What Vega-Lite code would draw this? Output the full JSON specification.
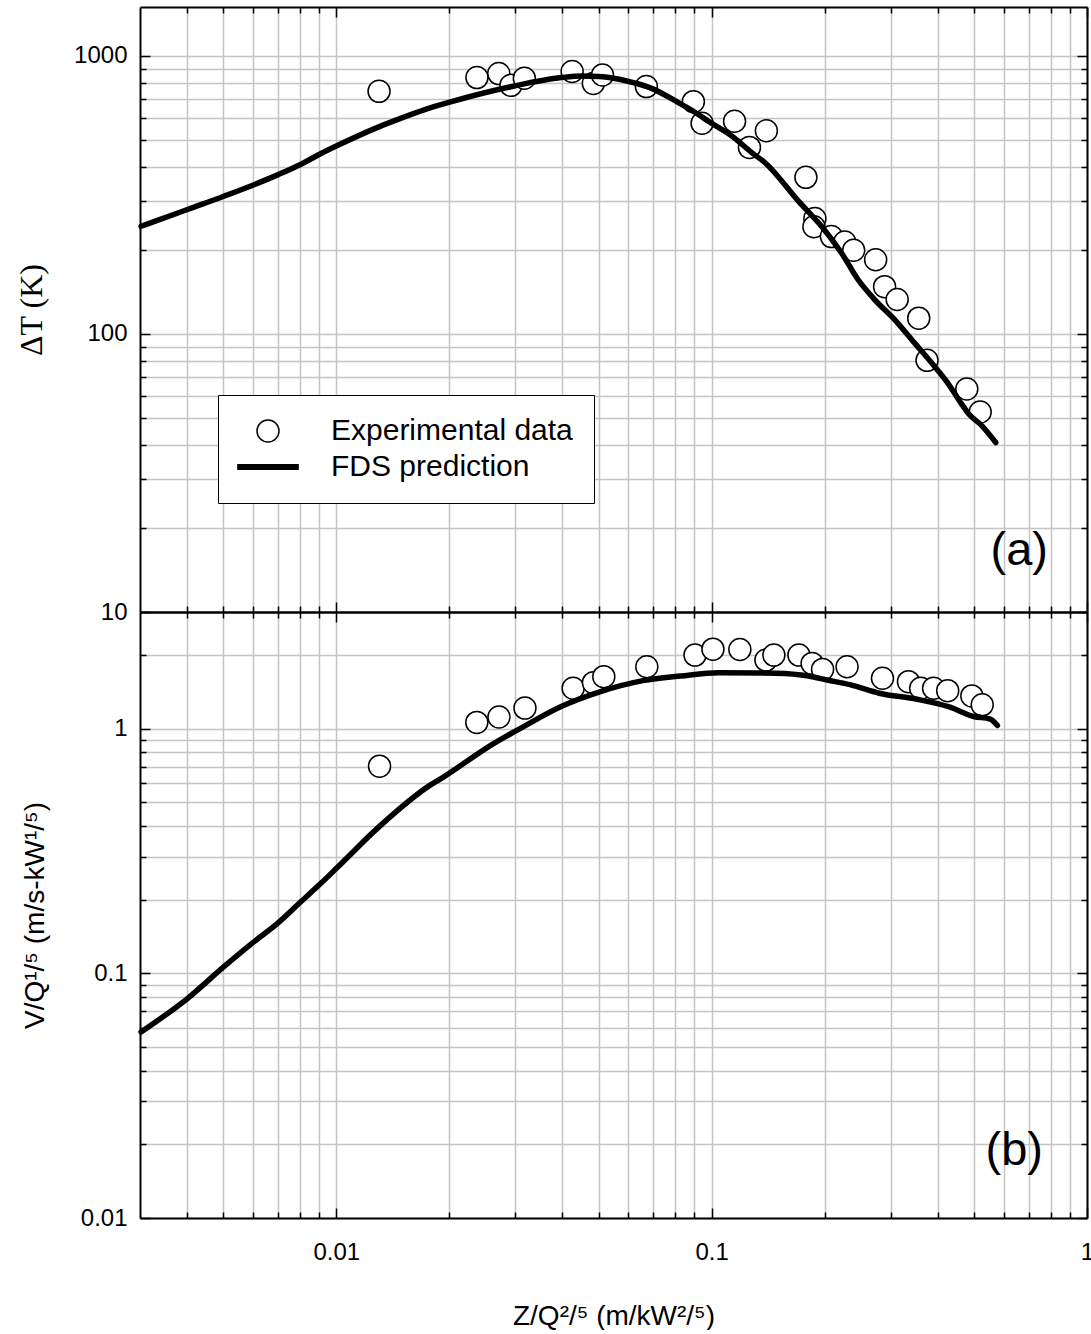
{
  "$schema": "https://vega.github.io/schema/vega-lite/v6.json",
  "background": "white",
  "padding": {"left": 15, "top": 6, "right": 0, "bottom": 0},
  "spacing": 0,
  "bounds": "flush",
  "datasets": {
    "tempExp": [
      {"z": 0.0130, "value": 746, "series": "Experimental data"},
      {"z": 0.0237, "value": 836, "series": "Experimental data"},
      {"z": 0.0271, "value": 864, "series": "Experimental data"},
      {"z": 0.0292, "value": 784, "series": "Experimental data"},
      {"z": 0.0317, "value": 831, "series": "Experimental data"},
      {"z": 0.0425, "value": 879, "series": "Experimental data"},
      {"z": 0.0484, "value": 796, "series": "Experimental data"},
      {"z": 0.0512, "value": 854, "series": "Experimental data"},
      {"z": 0.0670, "value": 776, "series": "Experimental data"},
      {"z": 0.0894, "value": 685, "series": "Experimental data"},
      {"z": 0.0943, "value": 573, "series": "Experimental data"},
      {"z": 0.1151, "value": 582, "series": "Experimental data"},
      {"z": 0.1261, "value": 469, "series": "Experimental data"},
      {"z": 0.1399, "value": 538, "series": "Experimental data"},
      {"z": 0.1783, "value": 366, "series": "Experimental data"},
      {"z": 0.1884, "value": 260, "series": "Experimental data"},
      {"z": 0.1873, "value": 243, "series": "Experimental data"},
      {"z": 0.2085, "value": 224, "series": "Experimental data"},
      {"z": 0.2263, "value": 214, "series": "Experimental data"},
      {"z": 0.2390, "value": 200, "series": "Experimental data"},
      {"z": 0.2735, "value": 185, "series": "Experimental data"},
      {"z": 0.2889, "value": 148, "series": "Experimental data"},
      {"z": 0.3121, "value": 133, "series": "Experimental data"},
      {"z": 0.3562, "value": 114, "series": "Experimental data"},
      {"z": 0.3748, "value": 80.4, "series": "Experimental data"},
      {"z": 0.4784, "value": 63.4, "series": "Experimental data"},
      {"z": 0.5193, "value": 52.4, "series": "Experimental data"}
    ],
    "tempFds": [
      {"z": 0.00302, "value": 244}, {"z": 0.00403, "value": 281}, {"z": 0.00502, "value": 313},
      {"z": 0.00606, "value": 345}, {"z": 0.00703, "value": 375}, {"z": 0.00803, "value": 407},
      {"z": 0.00903, "value": 443}, {"z": 0.0100, "value": 474}, {"z": 0.01308, "value": 558},
      {"z": 0.01478, "value": 595}, {"z": 0.01722, "value": 641}, {"z": 0.02006, "value": 682},
      {"z": 0.02984, "value": 780},
      {"z": 0.03983, "value": 836}, {"z": 0.04529, "value": 847}, {"z": 0.05014, "value": 843},
      {"z": 0.05938, "value": 813}, {"z": 0.06943, "value": 763}, {"z": 0.08012, "value": 689},
      {"z": 0.0892, "value": 634}, {"z": 0.09922, "value": 576}, {"z": 0.1132, "value": 515},
      {"z": 0.1279, "value": 449}, {"z": 0.1388, "value": 413}, {"z": 0.1701, "value": 301},
      {"z": 0.1962, "value": 244}, {"z": 0.2216, "value": 196}, {"z": 0.2454, "value": 157},
      {"z": 0.2718, "value": 133}, {"z": 0.3072, "value": 112.7}, {"z": 0.347, "value": 92.9},
      {"z": 0.3922, "value": 76.5}, {"z": 0.4253, "value": 66.7}, {"z": 0.4612, "value": 56.5},
      {"z": 0.4857, "value": 51.3}, {"z": 0.5212, "value": 47.2}, {"z": 0.5714, "value": 40.7}
    ],
    "velExp": [
      {"z": 0.01304, "value": 0.703}, {"z": 0.02368, "value": 1.061}, {"z": 0.02713, "value": 1.116},
      {"z": 0.03182, "value": 1.214}, {"z": 0.04276, "value": 1.464}, {"z": 0.04843, "value": 1.543},
      {"z": 0.05161, "value": 1.632}, {"z": 0.0672, "value": 1.792}, {"z": 0.09031, "value": 2.0},
      {"z": 0.1008, "value": 2.115}, {"z": 0.1189, "value": 2.109}, {"z": 0.1395, "value": 1.908},
      {"z": 0.1465, "value": 2.0}, {"z": 0.1708, "value": 2.0}, {"z": 0.1852, "value": 1.849},
      {"z": 0.1975, "value": 1.748}, {"z": 0.2295, "value": 1.792}, {"z": 0.2852, "value": 1.608},
      {"z": 0.3345, "value": 1.557}, {"z": 0.3606, "value": 1.464}, {"z": 0.3902, "value": 1.464},
      {"z": 0.4255, "value": 1.431}, {"z": 0.4934, "value": 1.362}, {"z": 0.5258, "value": 1.252}
    ],
    "velFds": [
      {"z": 0.00302, "value": 0.0576}, {"z": 0.00402, "value": 0.0791}, {"z": 0.00502, "value": 0.1065},
      {"z": 0.00603, "value": 0.1345}, {"z": 0.00696, "value": 0.1597}, {"z": 0.00803, "value": 0.1956},
      {"z": 0.00907, "value": 0.2322}, {"z": 0.01004, "value": 0.270}, {"z": 0.01308, "value": 0.4007},
      {"z": 0.01775, "value": 0.5865}, {"z": 0.01916, "value": 0.630}, {"z": 0.02598, "value": 0.861},
      {"z": 0.03182, "value": 1.028}, {"z": 0.04012, "value": 1.240}, {"z": 0.05058, "value": 1.418},
      {"z": 0.06566, "value": 1.572}, {"z": 0.08279, "value": 1.642}, {"z": 0.1044, "value": 1.694},
      {"z": 0.1478, "value": 1.684}, {"z": 0.1811, "value": 1.642}, {"z": 0.2032, "value": 1.582},
      {"z": 0.2349, "value": 1.510}, {"z": 0.2795, "value": 1.397}, {"z": 0.3526, "value": 1.320},
      {"z": 0.4318, "value": 1.225}, {"z": 0.4991, "value": 1.122}, {"z": 0.5524, "value": 1.095},
      {"z": 0.5773, "value": 1.031}
    ],
    "tagA": [{"z": 0.66, "value": 14.8, "txt": "(a)"}],
    "tagB": [{"z": 0.64, "value": 0.01642, "txt": "(b)"}]
  },
  "vconcat": [
    {
      "width": 947,
      "height": 605,
      "resolve": {"axis": {"x": "independent", "y": "independent"}},
      "layer": [
        {
          "data": {"name": "tempExp"},
          "mark": {"type": "point", "size": 484, "fill": "white", "opacity": 1},
          "encoding": {
            "x": {"field": "z", "type": "quantitative",
              "scale": {"type": "log", "domain": [0.003, 1], "nice": false},
              "axis": {"orient": "bottom", "values": [0.004,0.005,0.006,0.007,0.008,0.009,0.01,0.02,0.03,0.04,0.05,0.06,0.07,0.08,0.09,0.1,0.2,0.3,0.4,0.5,0.6,0.7,0.8,0.9,1],
                "grid": true, "labels": false, "title": null,
                "tickSize": {"condition": {"test": "datum.value == 0.01 || datum.value == 0.1 || datum.value == 1", "value": -10}, "value": -6}}},
            "y": {"field": "value", "type": "quantitative",
              "scale": {"type": "log", "domain": [10, 1500], "nice": false},
              "axis": {"orient": "left", "values": [10,20,30,40,50,60,70,80,90,100,200,300,400,500,600,700,800,900,1000],
                "grid": true, "format": "~g",
                "labelExpr": "datum.value == 10 || datum.value == 100 || datum.value == 1000 ? datum.label : ''",
                "labelPadding": 23,
                "tickSize": {"condition": {"test": "datum.value == 10 || datum.value == 100 || datum.value == 1000", "value": -10}, "value": -6},
                "title": "ΔT (K)", "titleFont": "Liberation Serif", "titleFontSize": 32,
                "titleX": -109, "titleBaseline": "middle", "titleAngle": -90}},
            "stroke": {"field": "series", "type": "ordinal",
              "scale": {"domain": ["Experimental data", "FDS prediction"], "range": ["black", "black"]},
              "legend": {
                "orient": "none", "legendX": 78, "legendY": 388, "title": null,
                "strokeColor": "black", "fillColor": "white", "padding": 21,
                "labelFont": "Liberation Sans", "labelFontSize": 30, "labelColor": "black", "labelLimit": 600,
                "labelOffset": 48, "symbolSize": 484, "symbolOffset": 14, "rowPadding": 6,
                "symbolStrokeColor": "black", "symbolFillColor": "white"
              }},
            "shape": {"field": "series", "type": "ordinal",
              "scale": {"domain": ["Experimental data", "FDS prediction"], "range": ["circle", "M-2.8,0H2.8"]},
              "legend": {
                "orient": "none", "legendX": 78, "legendY": 388, "title": null,
                "strokeColor": "black", "fillColor": "white", "padding": 21,
                "labelFont": "Liberation Sans", "labelFontSize": 30, "labelColor": "black", "labelLimit": 600,
                "labelOffset": 48, "symbolSize": 484, "symbolOffset": 14, "rowPadding": 6,
                "symbolStrokeColor": "black", "symbolFillColor": "white"
              }},
            "strokeWidth": {"field": "series", "type": "ordinal",
              "scale": {"domain": ["Experimental data", "FDS prediction"], "range": [1.5, 6]},
              "legend": {
                "orient": "none", "legendX": 78, "legendY": 388, "title": null,
                "strokeColor": "black", "fillColor": "white", "padding": 21,
                "labelFont": "Liberation Sans", "labelFontSize": 30, "labelColor": "black", "labelLimit": 600,
                "labelOffset": 48, "symbolSize": 484, "symbolOffset": 14, "rowPadding": 6,
                "symbolStrokeColor": "black", "symbolFillColor": "white"
              }}
          }
        },
        {
          "data": {"name": "tempFds"},
          "mark": {"type": "line", "stroke": "black", "strokeWidth": 5.5, "strokeCap": "round", "strokeJoin": "round", "interpolate": "monotone"},
          "encoding": {
            "x": {"field": "z", "type": "quantitative",
              "axis": {"orient": "top", "values": [0.004,0.005,0.006,0.007,0.008,0.009,0.01,0.02,0.03,0.04,0.05,0.06,0.07,0.08,0.09,0.1,0.2,0.3,0.4,0.5,0.6,0.7,0.8,0.9,1],
                "grid": false, "labels": false, "title": null,
                "tickSize": {"condition": {"test": "datum.value == 0.01 || datum.value == 0.1 || datum.value == 1", "value": -10}, "value": -6}}},
            "y": {"field": "value", "type": "quantitative",
              "axis": {"orient": "right", "values": [10,20,30,40,50,60,70,80,90,100,200,300,400,500,600,700,800,900,1000],
                "grid": false, "labels": false, "title": null,
                "tickSize": {"condition": {"test": "datum.value == 10 || datum.value == 100 || datum.value == 1000", "value": -10}, "value": -6}}}
          }
        },
        {
          "data": {"name": "tagA"},
          "mark": {"type": "text", "font": "Liberation Sans", "fontSize": 47, "align": "center", "baseline": "alphabetic", "color": "black"},
          "encoding": {
            "x": {"field": "z", "type": "quantitative", "axis": null},
            "y": {"field": "value", "type": "quantitative", "axis": null},
            "text": {"field": "txt"}
          }
        }
      ]
    },
    {
      "width": 947,
      "height": 606,
      "resolve": {"axis": {"x": "independent", "y": "independent"}},
      "layer": [
        {
          "data": {"name": "velExp"},
          "mark": {"type": "point", "shape": "circle", "size": 484, "fill": "white", "stroke": "black", "strokeWidth": 1.5, "opacity": 1},
          "encoding": {
            "x": {"field": "z", "type": "quantitative",
              "scale": {"type": "log", "domain": [0.003, 1], "nice": false},
              "axis": {"orient": "bottom", "values": [0.004,0.005,0.006,0.007,0.008,0.009,0.01,0.02,0.03,0.04,0.05,0.06,0.07,0.08,0.09,0.1,0.2,0.3,0.4,0.5,0.6,0.7,0.8,0.9,1],
                "grid": true, "format": "~g",
                "labelExpr": "datum.value == 0.01 || datum.value == 0.1 || datum.value == 1 ? datum.label : ''",
                "labelPadding": 32,
                "tickSize": {"condition": {"test": "datum.value == 0.01 || datum.value == 0.1 || datum.value == 1", "value": -10}, "value": -6},
                "title": "Z/Q²/⁵ (m/kW²/⁵)", "titleFontSize": 28, "titleY": 106, "titleBaseline": "alphabetic"}},
            "y": {"field": "value", "type": "quantitative",
              "scale": {"type": "log", "domain": [0.01, 3], "nice": false},
              "axis": {"orient": "left", "values": [0.01,0.02,0.03,0.04,0.05,0.06,0.07,0.08,0.09,0.1,0.2,0.3,0.4,0.5,0.6,0.7,0.8,0.9,1,2],
                "grid": true, "format": "~g",
                "labelExpr": "datum.value == 0.01 || datum.value == 0.1 || datum.value == 1 ? datum.label : ''",
                "labelPadding": 23,
                "tickSize": {"condition": {"test": "datum.value == 0.01 || datum.value == 0.1 || datum.value == 1", "value": -10}, "value": -6},
                "title": "V/Q¹/⁵ (m/s-kW¹/⁵)", "titleFontSize": 28,
                "titleX": -105, "titleBaseline": "middle", "titleAngle": -90}}
          }
        },
        {
          "data": {"name": "velFds"},
          "mark": {"type": "line", "stroke": "black", "strokeWidth": 5.5, "strokeCap": "round", "strokeJoin": "round", "interpolate": "monotone"},
          "encoding": {
            "x": {"field": "z", "type": "quantitative",
              "axis": {"orient": "top", "values": [0.004,0.005,0.006,0.007,0.008,0.009,0.01,0.02,0.03,0.04,0.05,0.06,0.07,0.08,0.09,0.1,0.2,0.3,0.4,0.5,0.6,0.7,0.8,0.9,1],
                "grid": false, "labels": false, "title": null,
                "tickSize": {"condition": {"test": "datum.value == 0.01 || datum.value == 0.1 || datum.value == 1", "value": -10}, "value": -6}}},
            "y": {"field": "value", "type": "quantitative",
              "axis": {"orient": "right", "values": [0.01,0.02,0.03,0.04,0.05,0.06,0.07,0.08,0.09,0.1,0.2,0.3,0.4,0.5,0.6,0.7,0.8,0.9,1,2],
                "grid": false, "labels": false, "title": null,
                "tickSize": {"condition": {"test": "datum.value == 0.01 || datum.value == 0.1 || datum.value == 1", "value": -10}, "value": -6}}}
          }
        },
        {
          "data": {"name": "tagB"},
          "mark": {"type": "text", "font": "Liberation Sans", "fontSize": 47, "align": "center", "baseline": "alphabetic", "color": "black"},
          "encoding": {
            "x": {"field": "z", "type": "quantitative", "axis": null},
            "y": {"field": "value", "type": "quantitative", "axis": null},
            "text": {"field": "txt"}
          }
        }
      ]
    }
  ],
  "resolve": {"scale": {"stroke": "independent", "shape": "independent", "strokeWidth": "independent"}, "legend": {"stroke": "independent", "shape": "independent", "strokeWidth": "independent"}},
  "config": {
    "view": {"stroke": null},
    "axis": {
      "labelFont": "Liberation Sans", "labelFontSize": 24, "labelColor": "black",
      "titleFont": "Liberation Sans", "titleColor": "black", "titleFontWeight": "normal",
      "domainColor": "black", "domainWidth": 2,
      "tickColor": "black", "tickWidth": 1.5,
      "gridColor": "#c4c4c4", "gridWidth": 1.5, "gridOpacity": 1,
      "labelFlush": false, "labelOverlap": false
    }
  }
}
